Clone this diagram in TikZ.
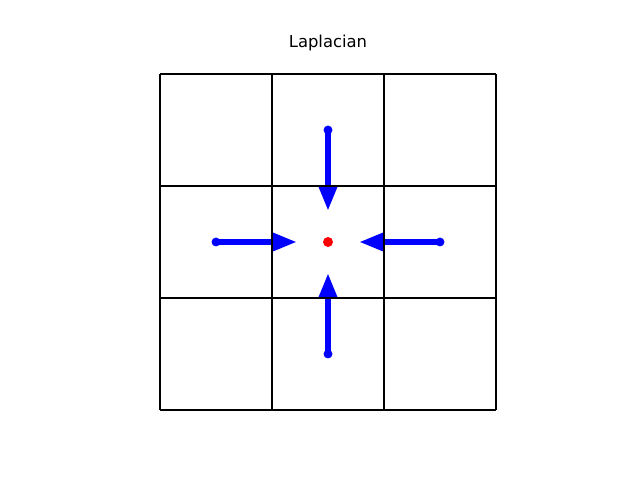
\documentclass[tikz,border=0pt]{standalone}
\usepackage{fontspec}
\setsansfont{DejaVu Sans}
\usetikzlibrary{arrows.meta}
\tikzset{
    flux/.style={blue, line width=4.5pt, -{Triangle[length=19pt, width=13.5pt]}},
}
\begin{document}
\begin{tikzpicture}[x=3cm,y=3cm]
    \useasboundingbox (-1.4286,-0.625) rectangle (4.2857,3.6607);
    \coordinate (O) at (1.5,1.5);
    \coordinate (W) at (0.5,1.5);
    \coordinate (E) at (2.5,1.5);
    \coordinate (N) at (1.5,2.5);
    \coordinate (S) at (1.5,0.5);
    \coordinate (Wtip) at (1.223,1.5);
    \coordinate (Etip) at (1.777,1.5);
    \coordinate (Ntip) at (1.5,1.777);
    \coordinate (Stip) at (1.5,1.223);
    \draw[flux] (W) -- (Wtip);
    \draw[flux] (E) -- (Etip);
    \draw[flux] (N) -- (Ntip);
    \draw[flux] (S) -- (Stip);
    \fill[blue] (W) circle (3.4pt);
    \fill[blue] (E) circle (3.4pt);
    \fill[blue] (N) circle (3.4pt);
    \fill[blue] (S) circle (3.4pt);
    \fill[red] (O) circle (3.8pt);
    \draw[line width=1.5pt, step=3cm] (0,0) grid (3,3);
    \node (title) at (1.5,3.277) {\sffamily\fontsize{12.5}{15}\selectfont Laplacian};
\end{tikzpicture}
\end{document}
